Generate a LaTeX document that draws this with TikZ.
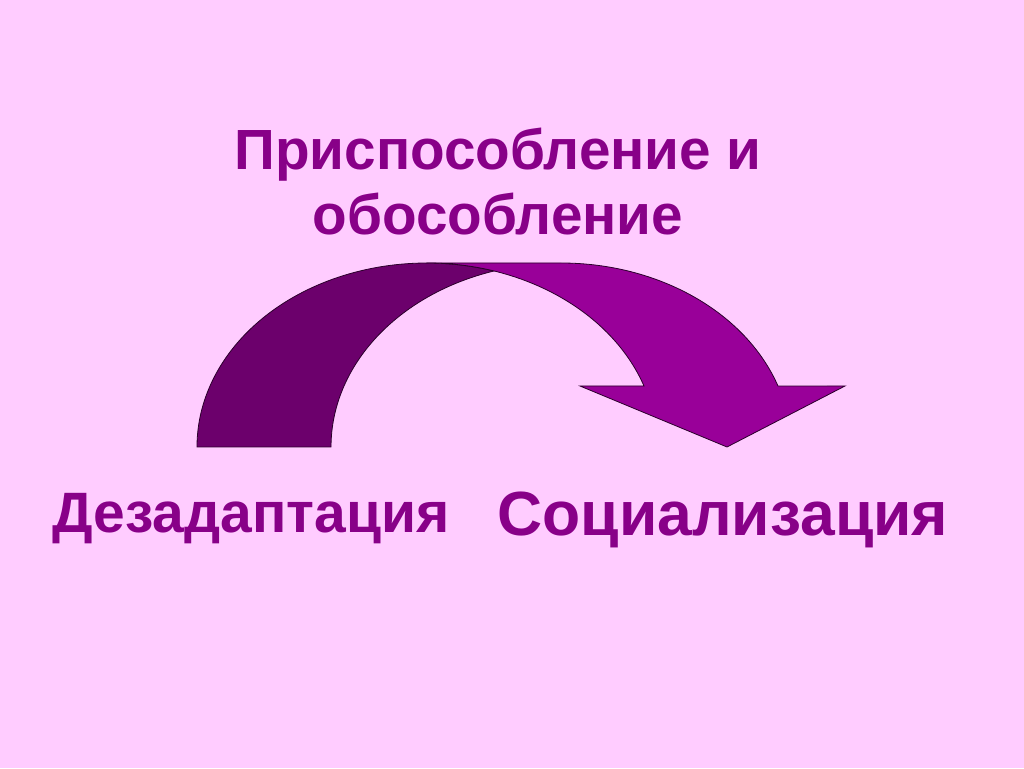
\documentclass[tikz,border=0pt]{standalone}
\usepackage{fontspec}
\setmainfont{Liberation Sans}
\usepackage{tikz}
\usetikzlibrary{positioning,calc}
\definecolor{bgpink}{HTML}{FFCCFF}
\definecolor{wordpurple}{HTML}{880088}
\definecolor{tailpurple}{HTML}{6C006C}
\definecolor{bodypurple}{HTML}{990099}
\tikzset{word/.style={text=wordpurple, inner sep=0pt, anchor=base},
    band/.style={draw=black!60!tailpurple, line width=0.6pt}}

\begin{document}
\begin{tikzpicture}[x=0.75pt, y=0.75pt]
    \fill[bgpink] (0,0) rectangle (1024,768);
    \useasboundingbox (0,0) rectangle (1024,768);

    \node[word, font=\bfseries\fontsize{42.5}{52}\selectfont] (title-1) at (498,598) {Приспособление и};
    \node[word, font=\bfseries\fontsize{42.5}{52}\selectfont] (title-2) at (498,533) {обособление};

    % tail of the bent arrow
    \filldraw[band, fill=tailpurple] (197,321)
        arc[start angle=180, end angle=73.06, x radius=230, y radius=184]
        arc[start angle=106.94, end angle=180, x radius=230, y radius=184] -- cycle;
    % body and head
    \filldraw[band, fill=bodypurple] (427,505) -- (561,505)
        arc[start angle=90, end angle=19.36, x radius=230, y radius=184]
        -- (845,382) -- (727,321) -- (580,382) -- (644,382)
        arc[start angle=19.36, end angle=90, x radius=230, y radius=184] -- cycle;

    \node[word, font=\bfseries\fontsize{42.7}{50}\selectfont] (from) at (251,236) {Дезадаптация};
    \node[word, font=\bfseries\fontsize{46.8}{54}\selectfont] (to) at (723,233) {Социализация};
\end{tikzpicture}
\end{document}
